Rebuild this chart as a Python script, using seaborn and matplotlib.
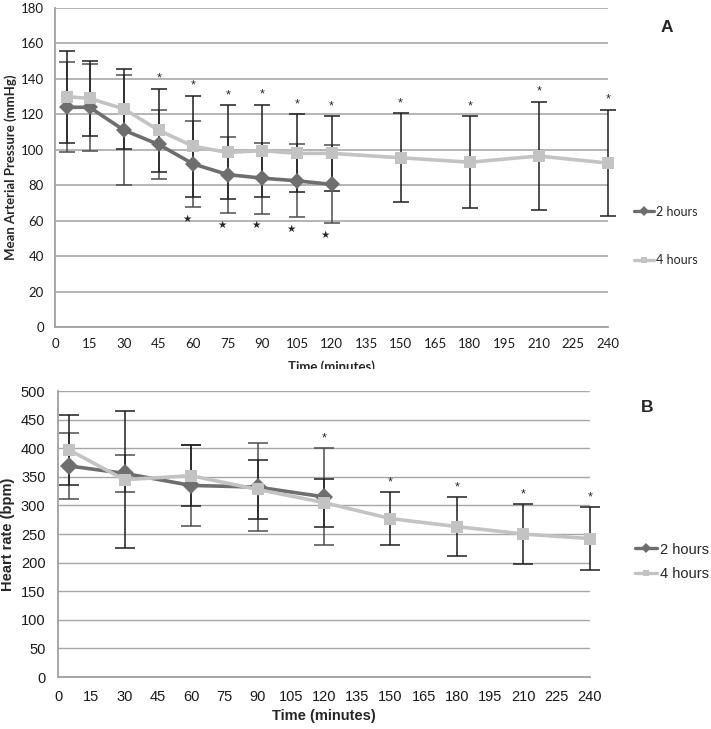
import numpy as np
import pandas as pd
import matplotlib
matplotlib.use('Agg')
import matplotlib.pyplot as plt
import seaborn as sns
from matplotlib.transforms import Bbox, TransformedBbox

# Panel A - presion arterial media (mmHg), media y desvio
map_2h_t = [5, 15, 30, 45, 60, 75, 90, 105, 120]
map_2h = [124, 124, 111, 103, 92, 86, 84, 82.5, 80.5]
map_2h_sd = [25.5, 24.5, 31, 19.5, 24.5, 21.5, 20, 20.5, 22]
map_4h_t = [5, 15, 30, 45, 60, 75, 90, 105, 120, 150, 180, 210, 240]
map_4h = [130, 129, 123, 111, 102, 98.5, 99.5, 98, 98, 95.5, 93, 96.5, 92.5]
map_4h_sd = [26, 21, 22.5, 23.5, 28.5, 26.5, 26, 22, 21, 25, 26, 30.5, 30]
map_ast_t = [45, 60, 75, 90, 105, 120, 150, 180, 210, 240]   # * sobre 4 hours
map_star_t = [60, 75, 90, 105, 120]                          # estrella bajo 2 hours

# Panel B - frecuencia cardiaca (bpm)
hr_2h_t = [5, 30, 60, 90, 120]
hr_2h = [369, 356, 335, 332, 315]
hr_2h_sd = [57, 32, 71, 77, 85]
hr_4h_t = [5, 30, 60, 90, 120, 150, 180, 210, 240]
hr_4h = [397, 345, 352, 328, 305, 277, 263, 250, 242]
hr_4h_sd = [61, 120, 53, 52, 42, 46, 51, 52, 55]
hr_ast_t = [120, 150, 180, 210, 240]

grupos = ['2 hours', '4 hours']
colores = {'2 hours': '#6e6e6e', '4 hours': '#c3c3c3'}
color_err = {'2 hours': '#4d4d4d', '4 hours': '#1e1e1e'}
marcadores = {'2 hours': 'D', '4 hours': 's'}


def armar_df(t2, v2, s2, t4, v4, s4):
    d2 = pd.DataFrame({'t': t2, 'v': v2, 'sd': s2, 'grupo': '2 hours'})
    d4 = pd.DataFrame({'t': t4, 'v': v4, 'sd': s4, 'grupo': '4 hours'})
    return pd.concat([d2, d4], ignore_index=True)


df_map = armar_df(map_2h_t, map_2h, map_2h_sd, map_4h_t, map_4h, map_4h_sd)
df_hr = armar_df(hr_2h_t, hr_2h, hr_2h_sd, hr_4h_t, hr_4h, hr_4h_sd)

sns.set_style('white')
plt.rcParams['font.family'] = ['Liberation Sans', 'DejaVu Sans']

fig = plt.figure(figsize=(7.11, 7.29), dpi=100)
ax1 = fig.add_axes([0.0774, 0.5514, 0.7777, 0.4376])
ax2 = fig.add_axes([0.0816, 0.0713, 0.7482, 0.3923])


def dibujar(ax, df, ymax, ystep, grid_c, grid_lw, cap, ms):
    for g in grupos:
        sub = df[df.grupo == g]
        ax.errorbar(sub.t, sub.v, yerr=sub.sd, fmt='none', ecolor=color_err[g],
                    elinewidth=1.1, capsize=cap, capthick=1.1, zorder=2, clip_on=False)
    sns.lineplot(data=df, x='t', y='v', hue='grupo', style='grupo',
                 markers=marcadores, dashes=False, palette=colores,
                 linewidth=2.6, markersize=ms, markeredgewidth=0,
                 estimator=None, sort=False, ax=ax, zorder=3, clip_on=False)
    ax.set_xlim(0, 240)
    ax.set_xticks(range(0, 241, 15))
    ax.set_ylim(0, ymax)
    ax.set_yticks(range(0, ymax + 1, ystep))
    ax.set_xlabel('')
    ax.set_ylabel('')
    ax.set_axisbelow(True)
    ax.yaxis.grid(True, color=grid_c, lw=grid_lw)
    ax.xaxis.grid(False)
    for s in ['top', 'right']:
        ax.spines[s].set_visible(False)
    for s in ['left', 'bottom']:
        ax.spines[s].set_color('#a0a0a0')
        ax.spines[s].set_linewidth(1.3)
    ax.tick_params(axis='both', direction='out', length=4, width=1,
                   color='#a0a0a0', labelcolor='#1a1a1a')


# ---- Panel A
dibujar(ax1, df_map, 180, 20, '#b4b4b4', 1.4, 6, 8.5)
ax1.tick_params(axis='both', pad=4, labelsize=9.5)
for lbl in ax1.get_xticklabels() + ax1.get_yticklabels():
    lbl.set_fontfamily('Lato')
ax1.set_ylabel('Mean Arterial Pressure (mmHg)', fontsize=9.5, fontweight='bold', family='Lato')
ax1.yaxis.set_label_coords(-0.0687, 0.5)
xl = ax1.set_xlabel('Time (minutes)', fontsize=9.5, fontweight='bold', family='Lato')
ax1.xaxis.set_label_coords(0.5, -0.103)
xl.set_clip_box(TransformedBbox(Bbox([[0, 1 - 369 / 729], [1, 1]]), fig.transFigure))
xl.set_clip_on(True)

d4 = df_map[df_map.grupo == '4 hours'].set_index('t')
d2 = df_map[df_map.grupo == '2 hours'].set_index('t')
for t in map_ast_t:
    ax1.annotate('*', (t, d4.loc[t, 'v'] + d4.loc[t, 'sd']), xytext=(0, 3),
                 textcoords='offset points', ha='center', va='bottom', fontsize=9,
                 annotation_clip=False)
for t in map_star_t:
    ax1.annotate('\u2605', (t, d2.loc[t, 'v'] - d2.loc[t, 'sd']), xytext=(-4.5, -8.5),
                 textcoords='offset points', ha='center', va='center', fontsize=7.5,
                 family=['DejaVu Sans'])

h, l = ax1.get_legend_handles_labels()
leg1 = ax1.legend(h, l, loc='center left', bbox_to_anchor=(623 / 711, 1 - 236 / 729),
                  bbox_transform=fig.transFigure, frameon=False,
                  labelspacing=2.95, handlelength=1.6, handletextpad=0.1,
                  prop={'family': 'Lato', 'size': 9})
for hd in leg1.legend_handles:
    hd.set_linewidth(2.4)
    hd.set_markersize(5)

# ---- Panel B
dibujar(ax2, df_hr, 500, 50, '#a6a6a6', 1.0, 7, 9)
ax2.tick_params(axis='both', pad=5, labelsize=10.5)
for lbl in ax2.get_xticklabels() + ax2.get_yticklabels():
    lbl.set_fontfamily('Liberation Sans')
ax2.set_ylabel('Heart rate (bpm)', fontsize=10.5, fontweight='bold')
ax2.yaxis.set_label_coords(-0.0808, 0.5)
ax2.set_xlabel('Time (minutes)', fontsize=10.5, fontweight='bold')
ax2.xaxis.set_label_coords(0.5, -0.112)

dd = df_hr.groupby('t')[['v', 'sd']].apply(lambda g: (g.v + g.sd).max())
for t in hr_ast_t:
    ax2.annotate('*', (t, dd.loc[t]), xytext=(0, 3), textcoords='offset points',
                 ha='center', va='bottom', fontsize=9, annotation_clip=False)

h, l = ax2.get_legend_handles_labels()
leg2 = ax2.legend(h, l, loc='center left', bbox_to_anchor=(622 / 711, 1 - 562 / 729),
                  bbox_transform=fig.transFigure, frameon=False,
                  labelspacing=0.75, handlelength=1.5, handletextpad=0.2,
                  prop={'family': 'Liberation Sans', 'size': 10.5})
for hd in leg2.legend_handles:
    hd.set_linewidth(2.4)
    hd.set_markersize(5)

fig.text(667 / 711, 1 - 28 / 729, 'A', ha='center', va='center', fontsize=12.5, fontweight='bold')
fig.text(647 / 711, 1 - 407 / 729, 'B', ha='center', va='center', fontsize=12.5, fontweight='bold')

fig.savefig('out.png', dpi=100)
